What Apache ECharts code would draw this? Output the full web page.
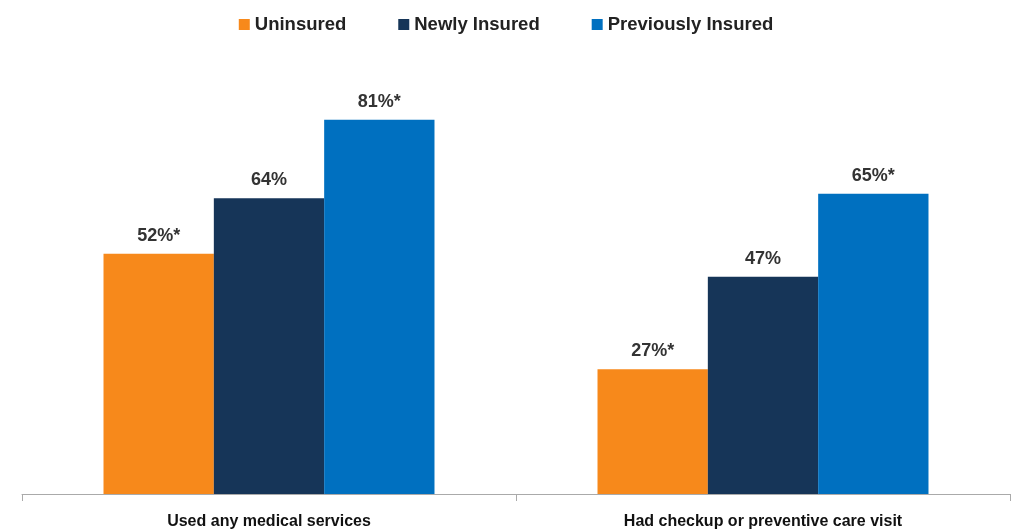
<!DOCTYPE html>
<html><head><meta charset="utf-8">
<script src="https://cdn.jsdelivr.net/npm/echarts@6/dist/echarts.min.js"></script>
<style>html,body{margin:0;padding:0;background:#fff}#c{width:1012px;height:531px}</style>
</head><body><div id="c"></div>
<script>
const categories = ['Used any medical services', 'Had checkup or preventive care visit'];
const seriesNames = ['Uninsured', 'Newly Insured', 'Previously Insured'];
const uninsured = [52, 27];
const newlyInsured = [64, 47];
const previouslyInsured = [81, 65];
const uninsuredLabels = ['52%*', '27%*'];
const newlyLabels = ['64%', '47%'];
const previouslyLabels = ['81%*', '65%*'];
const colors = ['#F7891B', '#163558', '#0070C0'];

const font = '"Liberation Sans", Arial, sans-serif';
function mk(name, values, labels, color) {
  return {
    name: name, type: 'bar', data: values, barGap: '0%', barCategoryGap: '33%',
    itemStyle: { color: color },
    label: { show: true, position: 'top', distance: 9, fontFamily: font, fontWeight: 'bold', fontSize: 18, color: '#333',
      formatter: p => labels[p.dataIndex] }
  };
}
const chart = echarts.init(document.getElementById('c'));
chart.setOption({
  animation: false,
  color: colors,
  legend: {
    top: 10, left: 'center', itemWidth: 11, itemHeight: 11, itemGap: 52, icon: 'rect',
    textStyle: { fontFamily: font, fontWeight: 'bold', fontSize: 18.5, color: '#222' },
    data: seriesNames
  },
  grid: { left: 22, right: 2, top: 32, bottom: 37 },
  xAxis: {
    type: 'category', data: categories,
    axisLine: { lineStyle: { color: '#aaa' } },
    axisTick: { show: true, length: 7, lineStyle: { color: '#aaa' } },
    axisLabel: { margin: 20, fontFamily: font, fontWeight: 'bold', fontSize: 16, color: '#111' }
  },
  yAxis: { type: 'value', min: 0, max: 100, show: false, splitLine: { show: false } },
  series: [
    mk(seriesNames[0], uninsured, uninsuredLabels, colors[0]),
    mk(seriesNames[1], newlyInsured, newlyLabels, colors[1]),
    mk(seriesNames[2], previouslyInsured, previouslyLabels, colors[2])
  ]
});
</script></body></html>
